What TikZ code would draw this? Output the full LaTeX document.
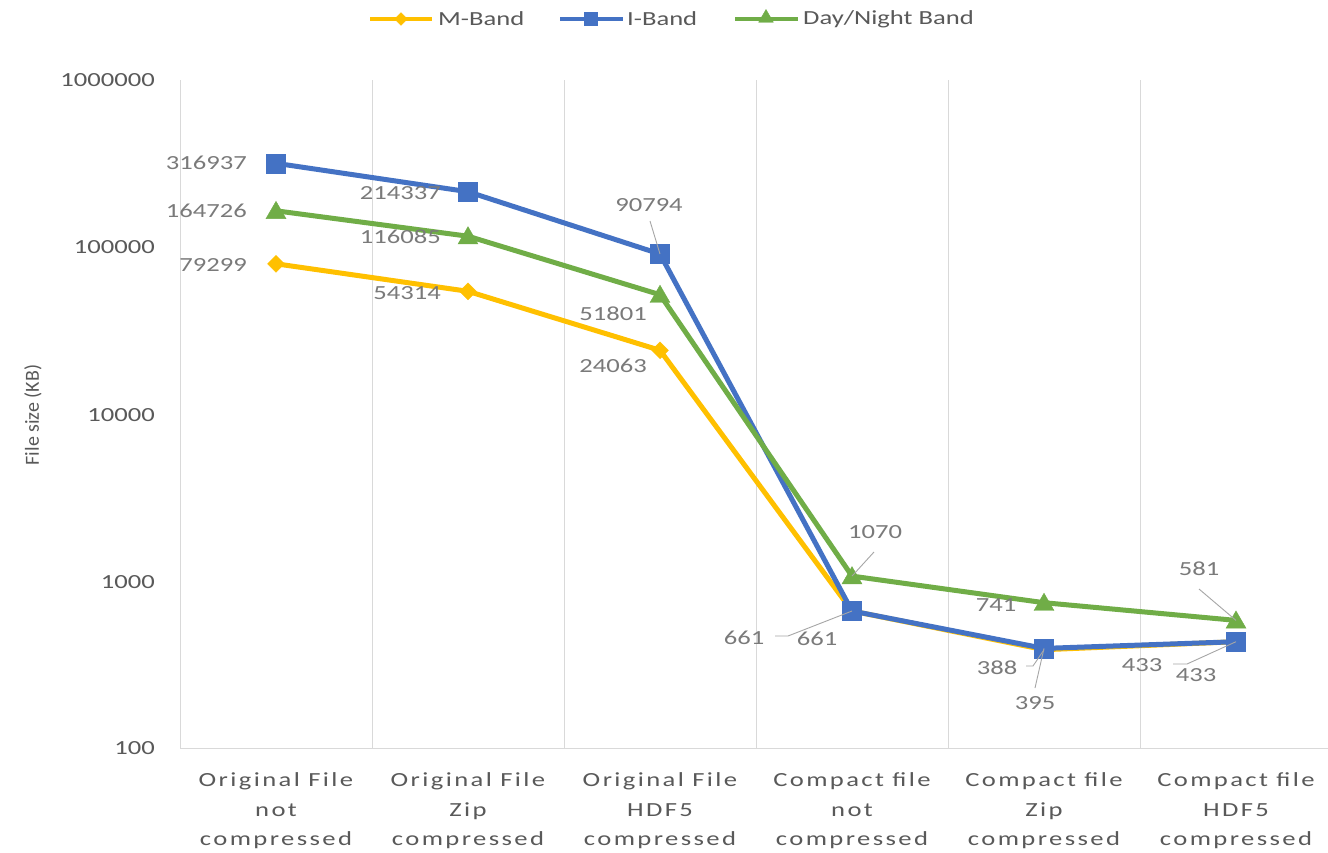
\documentclass[tikz,border=0pt]{standalone}
\usepackage{fontspec}
\setmainfont[FakeStretch=1.33]{Carlito}
\newfontfamily\catfont[FakeStretch=1.33,LetterSpace=12]{Carlito}
\newfontfamily\titlefont{Carlito}
\usetikzlibrary{shapes.geometric}
\definecolor{mband}{HTML}{FFC000}
\definecolor{iband}{HTML}{4472C4}
\definecolor{dnb}{HTML}{70AD47}
\definecolor{txt}{HTML}{595959}
\definecolor{dlab}{HTML}{7A7A7A}
\definecolor{gridc}{HTML}{D9D9D9}
\definecolor{leadc}{HTML}{A6A6A6}
\tikzset{
  sline/.style={line width=5pt, line join=round, line cap=round},
  mmark/.style={diamond, fill=mband, draw=mband, inner sep=0pt, minimum size=17pt},
  imark/.style={rectangle, fill=iband, draw=iband, inner sep=0pt, minimum size=19pt},
  dmark/.style={regular polygon, regular polygon sides=3, fill=dnb, draw=dnb, inner sep=0pt, minimum size=23pt},
  dlabel/.style={text=dlab, font=\fontsize{20}{24}\selectfont, inner sep=0pt},
  ticklab/.style={text=txt, font=\fontsize{20}{24}\selectfont, inner sep=0pt, anchor=east},
  catlab/.style={text=txt, font=\catfont\fontsize{20}{29.5}\selectfont, inner sep=0pt, align=center},
  leglab/.style={text=txt, font=\fontsize{20}{24}\selectfont, inner sep=0pt, anchor=west},
  leader/.style={draw=leadc, line width=0.9pt},
  gridline/.style={draw=gridc, line width=1pt},
}
\begin{document}
\begin{tikzpicture}[x=1pt,y=-1pt]
\useasboundingbox (0,0) rectangle (1328,852);
\fill[white] (0,0) rectangle (1328,852);
% grid
\foreach \gx in {180,372,564,756,948,1140} {\draw[gridline] (\gx,80) -- (\gx,748);}
\draw[gridline] (180,748) -- (1328,748);
% tick labels
\node[ticklab] (t6) at (155,80) {1000000};
\node[ticklab] (t5) at (155,247) {100000};
\node[ticklab] (t4) at (155,415) {10000};
\node[ticklab] (t3) at (155,582) {1000};
\node[ticklab] (t2) at (155,748) {100};
\node[text=txt, inner sep=0pt] (ytitle) at (33,415) {\rotatebox{90}{\titlefont\fontsize{20}{24}\selectfont File size (KB)}};
% category labels
\node[catlab] (c1) at (276,811) {Original File\\not\\compressed};
\node[catlab] (c2) at (468,811) {Original File\\Zip\\compressed};
\node[catlab] (c3) at (660,811) {Original File\\HDF5\\compressed};
\node[catlab] (c4) at (852,811) {Compact file\\not\\compressed};
\node[catlab] (c5) at (1044,811) {Compact file\\Zip\\compressed};
\node[catlab] (c6) at (1236,811) {Compact file\\HDF5\\compressed};
% data points
\coordinate (m1) at (276,263.8); \coordinate (m2) at (468,291.3); \coordinate (m3) at (660,350.3);
\coordinate (m4) at (852,611.0); \coordinate (m5) at (1044,649.7); \coordinate (m6) at (1236,641.7);
\coordinate (i1) at (276,163.3); \coordinate (i2) at (468,191.7); \coordinate (i3) at (660,254.0);
\coordinate (i4) at (852,611.0); \coordinate (i5) at (1044,648.4); \coordinate (i6) at (1236,641.7);
\coordinate (d1) at (276,210.8); \coordinate (d2) at (468,236.2); \coordinate (d3) at (660,294.7);
\coordinate (d4) at (852,576.1); \coordinate (d5) at (1044,602.7); \coordinate (d6) at (1236,620.4);
% M-Band
\draw[sline, mband] (m1) -- (m2) -- (m3) -- (m4) -- (m5) -- (m6);
\foreach \p in {1,...,6} {\node[mmark] (mm\p) at (m\p) {};}
% I-Band
\draw[sline, iband] (i1) -- (i2) -- (i3) -- (i4) -- (i5) -- (i6);
\foreach \p in {1,...,6} {\node[imark] (im\p) at (i\p) {};}
% Day/Night Band
\draw[sline, dnb] (d1) -- (d2) -- (d3) -- (d4) -- (d5) -- (d6);
\foreach \p in {1,...,6} {\node[dmark] (dm\p) at ([yshift=-2pt]d\p) {};}
% data labels
\node[dlabel, anchor=east] (li1) at (247,163) {316937};
\node[dlabel, anchor=east] (ld1) at (247,211) {164726};
\node[dlabel, anchor=east] (lm1) at (247,265) {79299};
\node[dlabel, anchor=east] (li2) at (441,193) {214337};
\node[dlabel, anchor=east] (ld2) at (441,237) {116085};
\node[dlabel, anchor=east] (lm2) at (441,293) {54314};
\node[dlabel] (li3) at (649,205) {90794};
\node[dlabel, anchor=east] (ld3) at (647,314) {51801};
\node[dlabel, anchor=east] (lm3) at (647,366) {24063};
\node[dlabel] (ld4) at (875,532) {1070};
\node[dlabel] (lm4) at (744,638) {661};
\node[dlabel] (li4) at (817,639) {661};
\node[dlabel] (ld5) at (996,605) {741};
\node[dlabel] (lm5) at (997,668) {388};
\node[dlabel] (li5) at (1035,703) {395};
\node[dlabel] (lm6) at (1142,665) {433};
\node[dlabel] (li6) at (1196,675) {433};
\node[dlabel] (ld6) at (1199,569) {581};
% leader lines
\coordinate (a3) at (650,221); \draw[leader] (a3) -- (i3);
\coordinate (a4) at (874,552); \draw[leader] (a4) -- (d4);
\coordinate (b4a) at (775,636); \coordinate (b4b) at (788,636); \draw[leader] (b4a) -- (b4b) -- (m4);
\coordinate (b5a) at (1026,666); \coordinate (b5b) at (1033,666); \draw[leader] (b5a) -- (b5b) -- (m5);
\coordinate (c5a) at (1035,688); \draw[leader] (c5a) -- (i5);
\coordinate (b6a) at (1173,664); \coordinate (b6b) at (1187,664); \draw[leader] (b6a) -- (b6b) -- (m6);
\coordinate (a6) at (1199,589); \draw[leader] (a6) -- (d6);
% legend
\coordinate (g1a) at (370,19); \coordinate (g1b) at (432,19);
\draw[sline, mband, line width=4pt, line cap=butt] (g1a) -- (g1b);
\node[mmark, minimum size=13pt] (gm) at (401,19) {};
\node[leglab] (gt1) at (438,19) {M-Band};
\coordinate (g2a) at (560,19); \coordinate (g2b) at (623,19);
\draw[sline, iband, line width=4pt, line cap=butt] (g2a) -- (g2b);
\node[imark, minimum size=13pt] (gi) at (591,19) {};
\node[leglab] (gt2) at (627,19) {I-Band};
\coordinate (g3a) at (735,19); \coordinate (g3b) at (798,19);
\draw[sline, dnb, line width=4pt, line cap=butt] (g3a) -- (g3b);
\node[dmark, minimum size=17pt] (gd) at (766,18) {};
\node[leglab] (gt3) at (803,19) {Day/Night Band};
\end{tikzpicture}
\end{document}
